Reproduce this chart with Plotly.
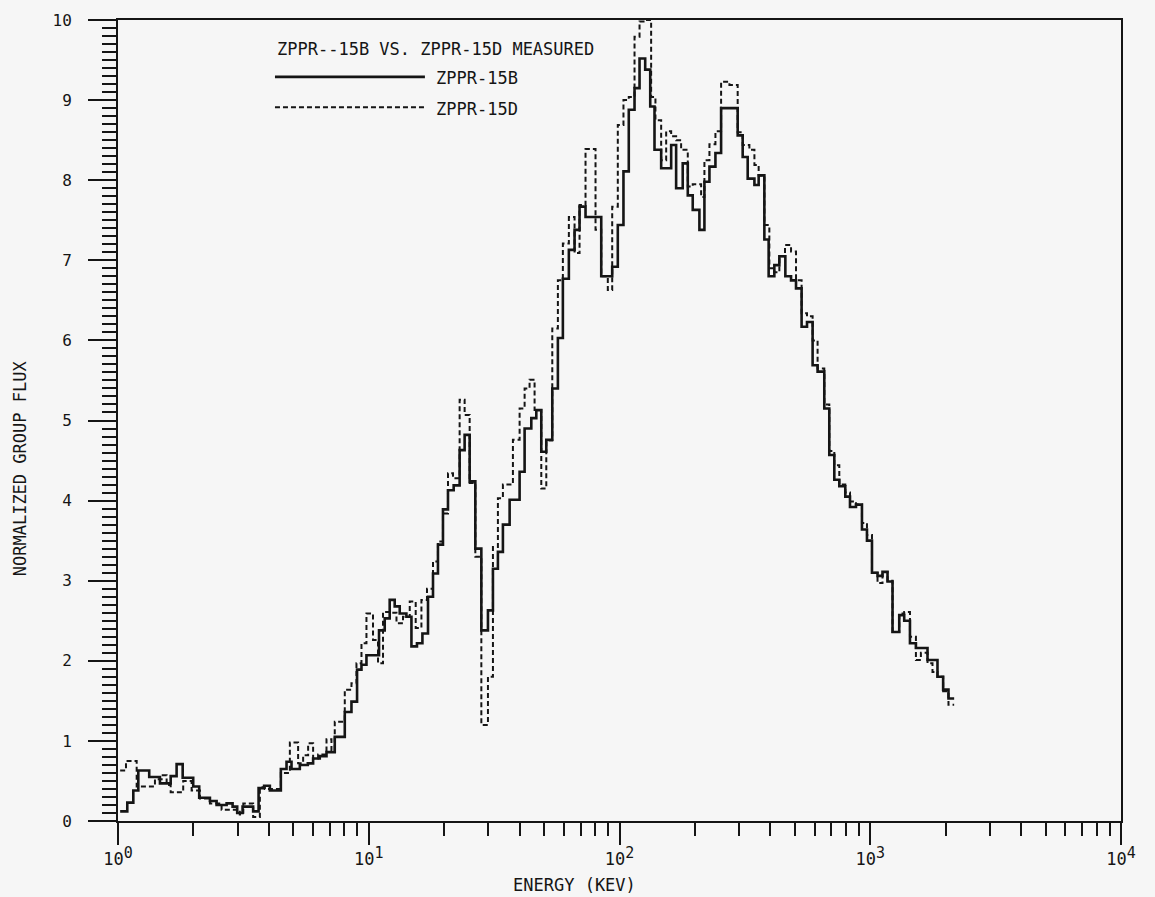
import plotly.graph_objects as go

# ---------------- data (energies in keV, normalized group flux) ----------------
B_left = [1.02, 1.089, 1.151, 1.205, 1.332, 1.470, 1.622, 1.713, 1.811, 1.995,
          2.108, 2.326, 2.473, 2.711, 2.864, 2.988, 3.139, 3.459, 3.636, 3.826,
          4.033, 4.461, 4.700, 4.920, 5.310, 5.715, 6.000, 6.378, 6.784, 7.319,
          8.024, 8.532, 8.982, 9.353, 9.791, 10.99, 11.58, 12.12, 12.69, 13.29,
          14.13, 14.80, 15.57, 16.37, 17.23, 18.04, 18.88, 19.77, 20.70, 21.81,
          23.04, 24.12, 25.26, 26.61, 28.12, 29.88, 31.28, 32.74, 34.28, 36.46,
          39.96, 41.84, 44.49, 46.58, 48.76, 51.05, 53.94, 56.79, 59.45, 62.81,
          66.19, 69.29, 73.20, 84.56, 93.52, 98.45, 103.7, 108.9, 114.8, 120.2,
          126.6, 132.6, 137.9, 146.6, 160.7, 168.2, 178.7, 187.2, 195.9, 208.3,
          218.1, 228.4, 241.3, 254.2, 296.0, 309.9, 324.5, 345.2, 358.9, 378.2,
          393.4, 414.5, 434.0, 458.6, 483.2, 505.8, 532.4, 559.5, 589.0, 616.6,
          655.7, 686.5, 718.9, 752.6, 795.2, 830.2, 877.1, 926.7, 970.3, 1016,
          1069, 1119, 1172, 1227, 1305, 1366, 1440, 1521, 1692, 1854,
          1953, 2051]
B_val = [0.12, 0.23, 0.38, 0.63, 0.55, 0.47, 0.56, 0.71, 0.54, 0.43,
         0.29, 0.25, 0.20, 0.22, 0.18, 0.10, 0.18, 0.12, 0.41, 0.44,
         0.38, 0.65, 0.74, 0.65, 0.70, 0.72, 0.78, 0.81, 0.86, 1.05,
         1.36, 1.49, 1.89, 1.95, 2.07, 2.38, 2.53, 2.76, 2.68, 2.59,
         2.55, 2.18, 2.22, 2.34, 2.80, 3.09, 3.45, 3.89, 4.13, 4.19,
         4.63, 4.82, 4.24, 3.40, 2.38, 2.63, 3.15, 3.36, 3.70, 4.01,
         4.36, 4.90, 5.03, 5.13, 4.61, 4.76, 5.40, 6.03, 6.77, 7.13,
         7.38, 7.67, 7.54, 6.80, 6.92, 7.44, 8.11, 8.88, 9.15, 9.52,
         9.38, 8.92, 8.38, 8.15, 8.44, 7.90, 8.21, 7.81, 7.63, 7.38,
         7.98, 8.17, 8.34, 8.90, 8.56, 8.29, 8.02, 7.94, 8.06, 7.26,
         6.80, 6.94, 7.05, 6.80, 6.75, 6.65, 6.17, 6.23, 5.69, 5.61,
         5.15, 4.57, 4.26, 4.18, 4.05, 3.92, 3.95, 3.64, 3.50, 3.10,
         3.06, 3.11, 2.99, 2.36, 2.57, 2.50, 2.22, 2.16, 2.01, 1.80,
         1.64, 1.53]
B_end = 2161

D_left = [1.02, 1.076, 1.187, 1.404, 1.493, 1.563, 1.622, 1.820, 1.966, 2.122,
          2.326, 2.589, 3.06, 3.16, 3.459, 3.679, 3.851, 4.461, 4.846, 5.228,
          5.474, 5.731, 6.000, 6.28, 6.784, 7.10, 7.319, 8.024, 8.532, 8.933,
          9.353, 9.791, 10.40, 10.89, 11.40, 12.12, 12.90, 13.70, 14.57, 15.39,
          16.22, 17.07, 18.04, 18.88, 19.77, 20.70, 21.67, 23.04, 24.12, 25.26,
          26.61, 28.12, 29.88, 31.28, 32.74, 34.28, 37.58, 39.96, 41.84, 43.79,
          45.85, 48.76, 51.05, 53.94, 56.79, 59.45, 62.81, 66.19, 69.29, 73.20,
          80.24, 84.56, 89.82, 93.52, 98.45, 103.7, 108.9, 114.8, 120.2, 126.6,
          133.7, 139.1, 146.6, 153.5, 160.7, 168.2, 176.1, 187.2, 195.9, 211.6,
          218.1, 228.4, 241.3, 254.2, 274.4, 296.0, 309.9, 329.6, 345.2, 358.9,
          378.2, 395.9, 414.5, 434.0, 457.2, 483.2, 505.8, 532.4, 559.5, 589.0,
          616.6, 655.7, 686.5, 718.9, 752.6, 795.2, 830.2, 877.1, 926.7, 970.3,
          1016, 1069, 1119, 1172, 1227, 1305, 1366, 1440, 1521, 1592,
          1692, 1771, 1854, 1953, 2051]
D_val = [0.63, 0.75, 0.43, 0.52, 0.57, 0.45, 0.36, 0.50, 0.38, 0.28,
         0.22, 0.14, 0.08, 0.22, 0.05, 0.42, 0.40, 0.60, 0.98, 0.72,
         0.82, 0.97, 0.78, 0.83, 1.02, 0.88, 1.24, 1.64, 1.72, 1.97,
         2.22, 2.59, 2.26, 1.97, 2.61, 2.60, 2.47, 2.55, 2.74, 2.41,
         2.76, 2.90, 3.24, 3.49, 3.84, 4.34, 4.28, 5.26, 5.07, 4.22,
         3.30, 1.20, 1.80, 3.42, 4.03, 4.20, 4.76, 5.15, 5.40, 5.51,
         5.13, 4.15, 4.75, 6.15, 6.75, 7.21, 7.54, 7.09, 7.69, 8.39,
         7.38, 6.80, 6.63, 7.67, 8.69, 9.00, 9.04, 9.79, 9.98, 10.0,
         9.04, 8.75, 8.25, 8.61, 8.55, 8.50, 8.38, 7.92, 7.95, 7.79,
         8.25, 8.45, 8.61, 9.23, 9.19, 8.60, 8.44, 8.38, 8.19, 8.06,
         7.44, 6.90, 6.85, 7.05, 7.19, 7.11, 6.75, 6.34, 6.30, 6.00,
         5.65, 5.20, 4.62, 4.44, 4.20, 4.10, 3.99, 3.95, 3.72, 3.57,
         3.10, 2.97, 3.11, 3.00, 2.36, 2.59, 2.61, 2.30, 2.01, 2.10,
         1.97, 1.86, 1.80, 1.62, 1.45]
D_end = 2161

X_TICKS = [1, 10, 100, 1000, 10000]
X_EXP = ["0", "1", "2", "3", "4"]
X_MINOR = [m * d for d in (1, 10, 100, 1000) for m in range(2, 10)]
Y_TICKS = list(range(0, 11))

SERIES_B = "ZPPR-15B"
SERIES_D = "ZPPR-15D"
LEGEND_TITLE = "ZPPR--15B VS. ZPPR-15D MEASURED"
X_TITLE = "ENERGY (KEV)"
Y_TITLE = "NORMALIZED GROUP FLUX"

# ---------------- figure ----------------
INK = "#151515"
BG = "#f6f6f6"
FONT = "DejaVu Sans Mono"

x_ticktext = ["10<sup><span style='font-size:15px'>%s</span></sup>" % e for e in X_EXP]

fig = go.Figure()
fig.add_trace(go.Scatter(
    x=B_left + [B_end], y=B_val + [B_val[-1]], mode="lines", name=SERIES_B,
    line=dict(color=INK, width=2.6, shape="hv")))
fig.add_trace(go.Scatter(
    x=D_left + [D_end], y=D_val + [D_val[-1]], mode="lines", name=SERIES_D,
    line=dict(color=INK, width=2.0, shape="hv", dash="5px,3px")))

fig.update_layout(
    width=1155, height=897,
    margin=dict(l=118, r=34, t=20, b=76),
    paper_bgcolor=BG, plot_bgcolor=BG,
    showlegend=False,
    font=dict(family=FONT, size=16, color=INK),
)

fig.update_xaxes(
    type="log", range=[0, 4],
    showline=True, linecolor=INK, linewidth=2, mirror=True,
    showgrid=False, zeroline=False,
    tickmode="array", tickvals=X_TICKS, ticktext=x_ticktext,
    ticks="outside", ticklen=22, tickwidth=2, tickcolor=INK,
    minor=dict(tickmode="array", tickvals=X_MINOR, ticks="outside",
               ticklen=13, tickwidth=2, tickcolor=INK, showgrid=False),
    tickfont=dict(family=FONT, size=17, color=INK),
)
fig.update_yaxes(
    range=[0, 10],
    showline=True, linecolor=INK, linewidth=2, mirror=True,
    showgrid=False, zeroline=False,
    tickmode="array", tickvals=Y_TICKS,
    ticks="outside", ticklen=28, tickwidth=2, tickcolor=INK,
    minor=dict(dtick=0.1, ticks="outside", ticklen=14, tickwidth=1.5,
               tickcolor=INK, showgrid=False),
    ticklabelstandoff=13,
    tickfont=dict(family=FONT, size=16, color=INK),
)

# legend drawn inside the plot as in the original
LX0, LX1 = 0.1565, 0.306
fig.add_shape(type="line", xref="paper", yref="paper", x0=LX0, x1=LX1,
              y0=0.929, y1=0.929, line=dict(color=INK, width=2.6))
fig.add_shape(type="line", xref="paper", yref="paper", x0=LX0, x1=LX1,
              y0=0.891, y1=0.891, line=dict(color=INK, width=2.0, dash="5px,3px"))
fig.add_annotation(xref="paper", yref="paper", x=LX0, y=0.9638, text=LEGEND_TITLE,
                   showarrow=False, xanchor="left", yanchor="middle",
                   font=dict(family=FONT, size=17, color=INK))
fig.add_annotation(xref="paper", yref="paper", x=0.315, y=0.927, text=SERIES_B,
                   showarrow=False, xanchor="left", yanchor="middle",
                   font=dict(family=FONT, size=17, color=INK))
fig.add_annotation(xref="paper", yref="paper", x=0.315, y=0.889, text=SERIES_D,
                   showarrow=False, xanchor="left", yanchor="middle",
                   font=dict(family=FONT, size=17, color=INK))

# axis titles
fig.add_annotation(xref="paper", yref="paper", x=0.455, y=-0.08, text=X_TITLE,
                   showarrow=False, xanchor="center", yanchor="middle",
                   font=dict(family=FONT, size=17, color=INK))
fig.add_annotation(xref="paper", yref="paper", x=-0.098, y=0.44, text=Y_TITLE,
                   showarrow=False, textangle=-90, xanchor="center", yanchor="middle",
                   font=dict(family=FONT, size=17, color=INK))

fig.write_html("out.html")
